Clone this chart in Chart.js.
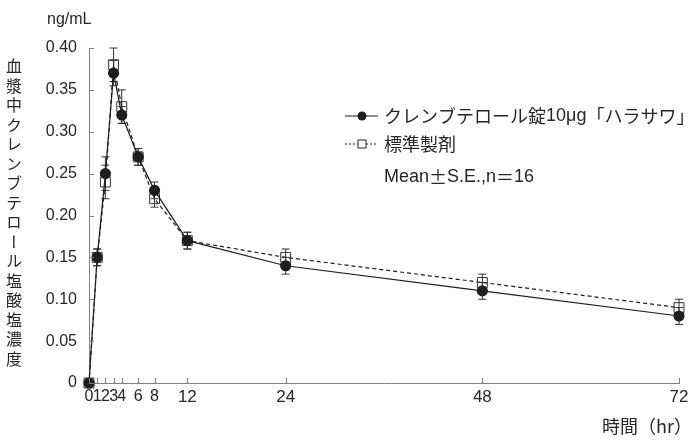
<!DOCTYPE html>
<html>
<head>
<meta charset="utf-8">
<script src="https://cdn.jsdelivr.net/npm/chart.js@4.4.1/dist/chart.umd.min.js"></script>
<style>
  body { margin: 0; background: #fff; }
  #wrap { position: relative; width: 694px; height: 445px; font-family: "Liberation Sans", "Noto Sans CJK JP", sans-serif; color: #262626; }
  #chart { position: absolute; left: 0; top: 0; }
  .lbl { position: absolute; white-space: nowrap; line-height: 1; }
  #yTitle { left: 6px; top: 58px; font-size: 16px; writing-mode: vertical-rl; text-orientation: upright; letter-spacing: 3.5px; font-family: "Noto Sans CJK JP", sans-serif; }
  #unit { left: 47px; top: 11px; font-size: 16px; }
  #xTitle { left: 602px; top: 416px; font-size: 18px; font-family: "Noto Sans CJK JP", sans-serif; }
</style>
</head>
<body>
<div id="wrap">
  <canvas id="chart" width="694" height="445"></canvas>
  <div class="lbl" id="unit">ng/mL</div>
  <div class="lbl" id="yTitle">血漿中クレンブテロール塩酸塩濃度</div>
  <div class="lbl" id="xTitle">時間（hr）</div>
</div>
<script>
// time points (hr)
const hours = [0, 1, 2, 3, 4, 6, 8, 12, 24, 48, 72];
const xTicks = [0, 1, 2, 3, 4, 6, 8, 12, 24, 48, 72];

// クレンブテロール錠10μg「ハラサワ」
const testMean = [0, 0.15, 0.25, 0.37, 0.32, 0.27, 0.23, 0.17, 0.14, 0.11, 0.08];
const testSE   = [0, 0.01, 0.02, 0.015, 0.01, 0.01, 0.01, 0.01, 0.01, 0.01, 0.01];

// 標準製剤
const refMean = [0, 0.15, 0.24, 0.38, 0.33, 0.27, 0.22, 0.17, 0.15, 0.12, 0.09];
const refSE   = [0, 0.01, 0.02, 0.02, 0.02, 0.01, 0.01, 0.01, 0.01, 0.01, 0.01];

const legendLabels = ['クレンブテロール錠10μg「ハラサワ」', '標準製剤', 'Mean±S.E.,n＝16'];

const ink = '#1e1e1e';
const axisGray = '#808080';
const textColor = '#262626';
const latin = '"Liberation Sans", sans-serif';
const cjk = '"Noto Sans CJK JP", sans-serif';

const errorBars = {
  id: 'errorBars',
  beforeDatasetsDraw(chart) {
    const ctx = chart.ctx;
    const xs = chart.scales.x, ys = chart.scales.y;
    const sets = [[testMean, testSE], [refMean, refSE]];
    ctx.save();
    ctx.strokeStyle = '#333';
    ctx.lineWidth = 1;
    sets.forEach(([m, se]) => {
      hours.forEach((h, i) => {
        if (!se[i]) return;
        const x = xs.getPixelForValue(h);
        const y1 = ys.getPixelForValue(m[i] + se[i]);
        const y2 = ys.getPixelForValue(m[i] - se[i]);
        ctx.beginPath();
        ctx.moveTo(x, y1); ctx.lineTo(x, y2);
        ctx.moveTo(x - 4, y1); ctx.lineTo(x + 4, y1);
        ctx.moveTo(x - 4, y2); ctx.lineTo(x + 4, y2);
        ctx.stroke();
      });
    });
    ctx.restore();
  }
};

// tick marks point inward, as in the original
const innerTicks = {
  id: 'innerTicks',
  afterDraw(chart) {
    const ctx = chart.ctx;
    const xs = chart.scales.x, ys = chart.scales.y;
    const a = chart.chartArea;
    ctx.save();
    ctx.strokeStyle = axisGray;
    ctx.lineWidth = 1;
    ctx.beginPath();
    xs.ticks.forEach(t => {
      const x = Math.round(xs.getPixelForValue(t.value)) + 0.5;
      ctx.moveTo(x, a.bottom); ctx.lineTo(x, a.bottom - 5);
    });
    ys.ticks.forEach(t => {
      const y = Math.round(ys.getPixelForValue(t.value)) + 0.5;
      ctx.moveTo(a.left, y); ctx.lineTo(a.left + 5, y);
    });
    ctx.stroke();
    ctx.restore();
  }
};

// draw text char by char so ± and ＝ come out full width
function drawMixed(ctx, text, x, y, size) {
  for (const ch of text) {
    ctx.font = size + 'px ' + ('±＝「」'.includes(ch) || ch.charCodeAt(0) > 0x2e80 ? cjk : latin);
    ctx.fillText(ch, x, y);
    x += ctx.measureText(ch).width;
  }
}

const customLegend = {
  id: 'customLegend',
  afterDraw(chart) {
    const ctx = chart.ctx;
    const x0 = 345, x1 = 378, mx = 362, tx = 384;
    const rows = [116, 144, 177];
    ctx.save();
    ctx.strokeStyle = ink;
    ctx.fillStyle = ink;
    ctx.lineWidth = 1.2;
    // row 1: solid line + filled circle
    ctx.beginPath(); ctx.moveTo(x0, rows[0]); ctx.lineTo(x1, rows[0]); ctx.stroke();
    ctx.beginPath(); ctx.arc(mx, rows[0], 4.5, 0, Math.PI * 2); ctx.fill();
    // row 2: dotted line + open square
    ctx.setLineDash([2, 2]);
    ctx.beginPath(); ctx.moveTo(x0, rows[1]); ctx.lineTo(mx - 4, rows[1]);
    ctx.moveTo(mx + 4, rows[1]); ctx.lineTo(x1, rows[1]); ctx.stroke();
    ctx.setLineDash([]);
    ctx.lineWidth = 1;
    ctx.strokeRect(mx - 4, rows[1] - 4, 8, 8);
    ctx.fillStyle = textColor;
    ctx.textBaseline = 'middle';
    legendLabels.forEach((t, i) => drawMixed(ctx, t, tx, rows[i], 18));
    ctx.restore();
  }
};

new Chart(document.getElementById('chart'), {
  type: 'line',
  data: {
    labels: hours,
    datasets: [{
      label: legendLabels[0],
      data: hours.map((h, i) => ({ x: h, y: testMean[i] })),
      borderColor: ink,
      borderWidth: 1.2,
      pointStyle: 'circle',
      pointRadius: 5,
      pointBackgroundColor: ink,
      pointBorderColor: ink,
      clip: false,
      tension: 0
    }, {
      label: legendLabels[1],
      data: hours.map((h, i) => ({ x: h, y: refMean[i] })),
      borderColor: ink,
      borderWidth: 1.2,
      borderDash: [4, 3],
      pointStyle: 'rect',
      pointRadius: 7,
      pointBorderWidth: 1,
      pointBackgroundColor: 'rgba(0,0,0,0)',
      pointBorderColor: '#333',
      clip: false,
      tension: 0
    }]
  },
  options: {
    responsive: false,
    animation: false,
    layout: { padding: { top: 48, right: 15, left: 0, bottom: 0 } },
    plugins: { legend: { display: false }, tooltip: { enabled: false } },
    scales: {
      x: {
        type: 'linear',
        min: 0,
        max: 72,
        afterBuildTicks: s => { s.ticks = xTicks.map(v => ({ value: v })); },
        afterFit: s => { s.height = 62; },
        grid: { display: false, drawTicks: false },
        border: { display: true, color: axisGray, width: 1 },
        ticks: {
          autoSkip: false,
          maxRotation: 0,
          padding: 4,
          color: textColor,
          font: c => ({ family: latin, size: c.tick && c.tick.value > 8 ? 17 : 16 }),
          callback: v => String(v)
        }
      },
      y: {
        min: 0,
        max: 0.4,
        afterFit: s => { s.width = 89; },
        grid: { display: false, drawTicks: false },
        border: { display: true, color: axisGray, width: 1 },
        ticks: {
          stepSize: 0.05,
          padding: 12,
          color: textColor,
          font: { family: latin, size: 16 },
          callback: v => v === 0 ? '0' : v.toFixed(2)
        }
      }
    }
  },
  plugins: [errorBars, innerTicks, customLegend]
});
</script>
</body>
</html>
